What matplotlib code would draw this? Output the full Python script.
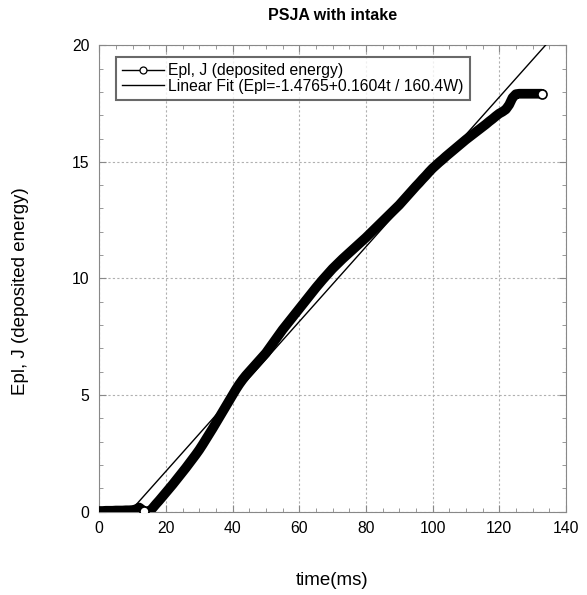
import numpy as np
import matplotlib
matplotlib.use('Agg')
import matplotlib.pyplot as plt
from matplotlib.ticker import MultipleLocator
from matplotlib.lines import Line2D

plt.rcParams['font.family'] = ['Liberation Sans', 'DejaVu Sans']

time_ms = list(range(0, 13)) + [13.5] + list(range(15, 133)) + [132.7]
epl = [0.03, 0.03, 0.04, 0.04, 0.04, 0.05, 0.05, 0.05, 0.06, 0.06, 0.07, 0.10, 0.18,
       0.02,
       0.00, 0.15, 0.32, 0.48, 0.65, 0.82, 0.99, 1.16, 1.34, 1.52,
       1.70, 1.88, 2.07, 2.26, 2.45, 2.65, 2.87, 3.10, 3.33, 3.56,
       3.80, 4.04, 4.28, 4.52, 4.76, 5.00, 5.24, 5.46, 5.66, 5.84,
       6.00, 6.16, 6.32, 6.48, 6.64, 6.80, 7.00, 7.20, 7.40, 7.60,
       7.80, 7.98, 8.16, 8.34, 8.52, 8.70, 8.88, 9.06, 9.24, 9.42,
       9.60, 9.77, 9.94, 10.10, 10.26, 10.42, 10.56, 10.70, 10.84, 10.97,
       11.10, 11.23, 11.36, 11.49, 11.62, 11.75, 11.89, 12.03, 12.17, 12.31,
       12.45, 12.59, 12.73, 12.87, 13.01, 13.15, 13.31, 13.47, 13.63, 13.79,
       13.95, 14.10, 14.26, 14.41, 14.57, 14.72, 14.85, 14.98, 15.10, 15.23,
       15.35, 15.47, 15.59, 15.71, 15.83, 15.95, 16.06, 16.17, 16.28, 16.39,
       16.50, 16.61, 16.73, 16.84, 16.96, 17.07, 17.15, 17.25, 17.45, 17.75,
       17.90, 17.92, 17.92, 17.92, 17.92, 17.92, 17.92, 17.92,
       17.92]

# Linear fit from the legend
fit_a = -1.4765
fit_b = 0.1604
fit_t = np.array([10, 135])

fig = plt.figure(figsize=(5.87, 5.95), dpi=100)
ax = fig.add_axes([0.169, 0.140, 0.795, 0.784])

# dense open-circle markers merge into a thick black band
ax.plot(time_ms, epl, color='black', lw=7, solid_capstyle='round',
        solid_joinstyle='round', zorder=3)
# isolated points where the open circles stay visible
ax.plot(time_ms, epl, ls='none', marker='o', ms=6.5, mfc='white', mec='black',
        mew=1.2, markevery=[13, len(time_ms) - 1], zorder=4)
ax.plot(fit_t, fit_a + fit_b * fit_t, color='black', lw=1, zorder=5)

ax.set_xlim(0, 140)
ax.set_ylim(0, 20)
ax.xaxis.set_major_locator(MultipleLocator(20))
ax.xaxis.set_minor_locator(MultipleLocator(5))
ax.yaxis.set_major_locator(MultipleLocator(5))
ax.yaxis.set_minor_locator(MultipleLocator(1))
ax.tick_params(which='both', direction='in', top=True, right=True,
               color='#888888', labelsize=11.3, labelcolor='black')
ax.tick_params(which='major', length=5, pad=7)
ax.tick_params(which='minor', length=3)
for s in ax.spines.values():
    s.set_color('#888888')
ax.grid(True, which='major', color='#b0b0b0', ls=(0, (2, 2)), lw=0.8)
ax.set_axisbelow(True)

handles = [
    Line2D([], [], color='black', lw=1, marker='o', ms=5, mfc='white',
           mec='black', mew=0.9),
    Line2D([], [], color='black', lw=1),
]
labels = ['Epl, J (deposited energy)',
          'Linear Fit (Epl=-1.4765+0.1604t / 160.4W)']
leg = ax.legend(handles, labels, loc='upper left',
                bbox_to_anchor=(0.035, 0.975), fontsize=11.3,
                frameon=True, fancybox=False, edgecolor='#444444',
                handlelength=2.7, borderpad=0.4, labelspacing=0.05,
                handletextpad=0.25, borderaxespad=0)
leg.get_frame().set_linewidth(1.5)

fig.text(0.5665, 0.974, 'PSJA with intake', ha='center', va='center',
         fontsize=11.5, fontweight='bold')
fig.text(0.5665, 0.025, 'time(ms)', ha='center', va='center', fontsize=13.5)
fig.text(0.035, 0.51, 'Epl, J (deposited energy)', ha='center', va='center',
         rotation=90, fontsize=13.5)

fig.savefig('out.png', dpi=100)
